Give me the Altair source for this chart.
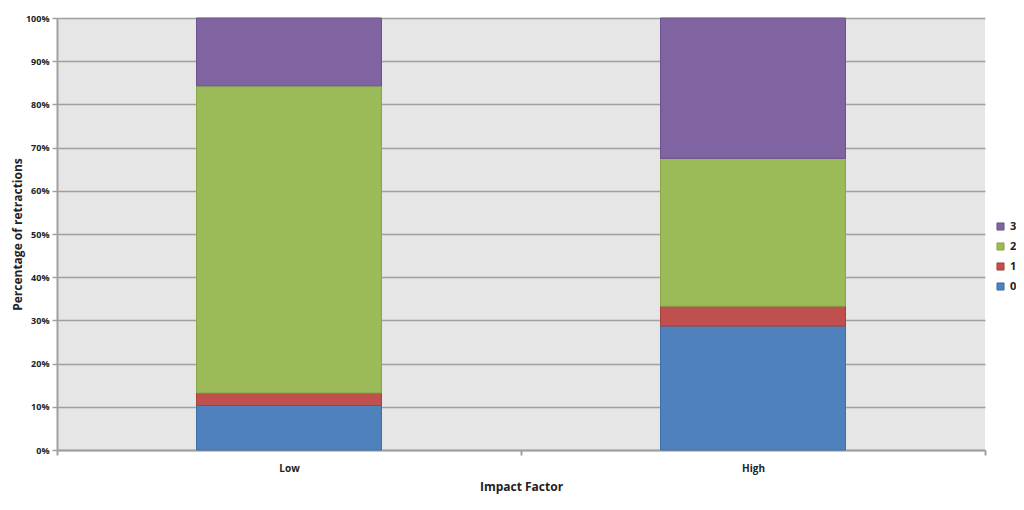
import altair as alt
import pandas as pd

categories = ["Low", "High"]
series = ["0", "1", "2", "3"]
low_values = [10.3, 2.9, 71.1, 15.7]
high_values = [28.7, 4.6, 34.2, 32.5]
colors = ["#4f81bd", "#c0504d", "#9bbb59", "#8064a2"]
strokes = ["#3f6fa8", "#a8403d", "#86a648", "#6c528c"]

rows = []
for cat, vals in zip(categories, [low_values, high_values]):
    for i, (s, v) in enumerate(zip(series, vals)):
        rows.append({"cat": cat, "series": s, "value": v / 100.0, "ord": i})
df = pd.DataFrame(rows)

legend_order = list(reversed(series))
color_range = [colors[series.index(s)] for s in legend_order]
stroke_range = [strokes[series.index(s)] for s in legend_order]

FONT = "Open Sans"

chart = alt.Chart(df).mark_bar(size=185, strokeWidth=1).encode(
    x=alt.X("cat:N", sort=categories, title="Impact Factor",
            scale=alt.Scale(paddingInner=0, paddingOuter=0),
            axis=alt.Axis(labelAngle=0, tickBand="extent", grid=False,
                          domainColor="#a0a0a0", domainWidth=2,
                          tickColor="#a0a0a0", tickWidth=2, tickSize=5,
                          labelFont=FONT, labelFontSize=10, labelFontWeight="bold",
                          labelColor="#222222", labelPadding=8,
                          titleFont=FONT, titleFontSize=12, titleFontWeight="bold",
                          titleColor="#222222", titlePadding=8)),
    y=alt.Y("value:Q", stack="zero", title="Percentage of retractions",
            scale=alt.Scale(domain=[0, 1], nice=False),
            axis=alt.Axis(format="%", values=[i / 10 for i in range(11)],
                          grid=True, gridColor="#a0a0a0", gridWidth=1.5,
                          domainColor="#a0a0a0", domainWidth=2,
                          tickColor="#a0a0a0", tickWidth=1.5, tickSize=5,
                          labelFont=FONT, labelFontSize=9, labelFontWeight="bold",
                          labelColor="#222222", labelPadding=3,
                          titleFont=FONT, titleFontSize=12, titleFontWeight="bold",
                          titleColor="#222222", titleX=-40, titleY=216,
                          titleAngle=270, titleAlign="center", titleBaseline="middle")),
    color=alt.Color("series:N", scale=alt.Scale(domain=legend_order, range=color_range),
                    legend=alt.Legend(title=None, orient="none", legendX=938, legendY=203,
                                      symbolType="square", symbolSize=50,
                                      symbolStrokeWidth=1, rowPadding=7,
                                      labelFont=FONT, labelFontSize=11,
                                      labelFontWeight="bold", labelColor="#222222")),
    stroke=alt.Stroke("series:N", scale=alt.Scale(domain=legend_order, range=stroke_range),
                      legend=None),
    order=alt.Order("ord:Q", sort="ascending"),
).properties(
    width=928, height=432,
    background="white",
    autosize=alt.AutoSizeParams(type="none"),
    padding={"left": 49, "top": 10, "right": 31, "bottom": 52},
).configure_view(
    fill="#e6e6e6", stroke=None
)

chart.save("out.html", embed_options={"renderer": "svg", "actions": False})
